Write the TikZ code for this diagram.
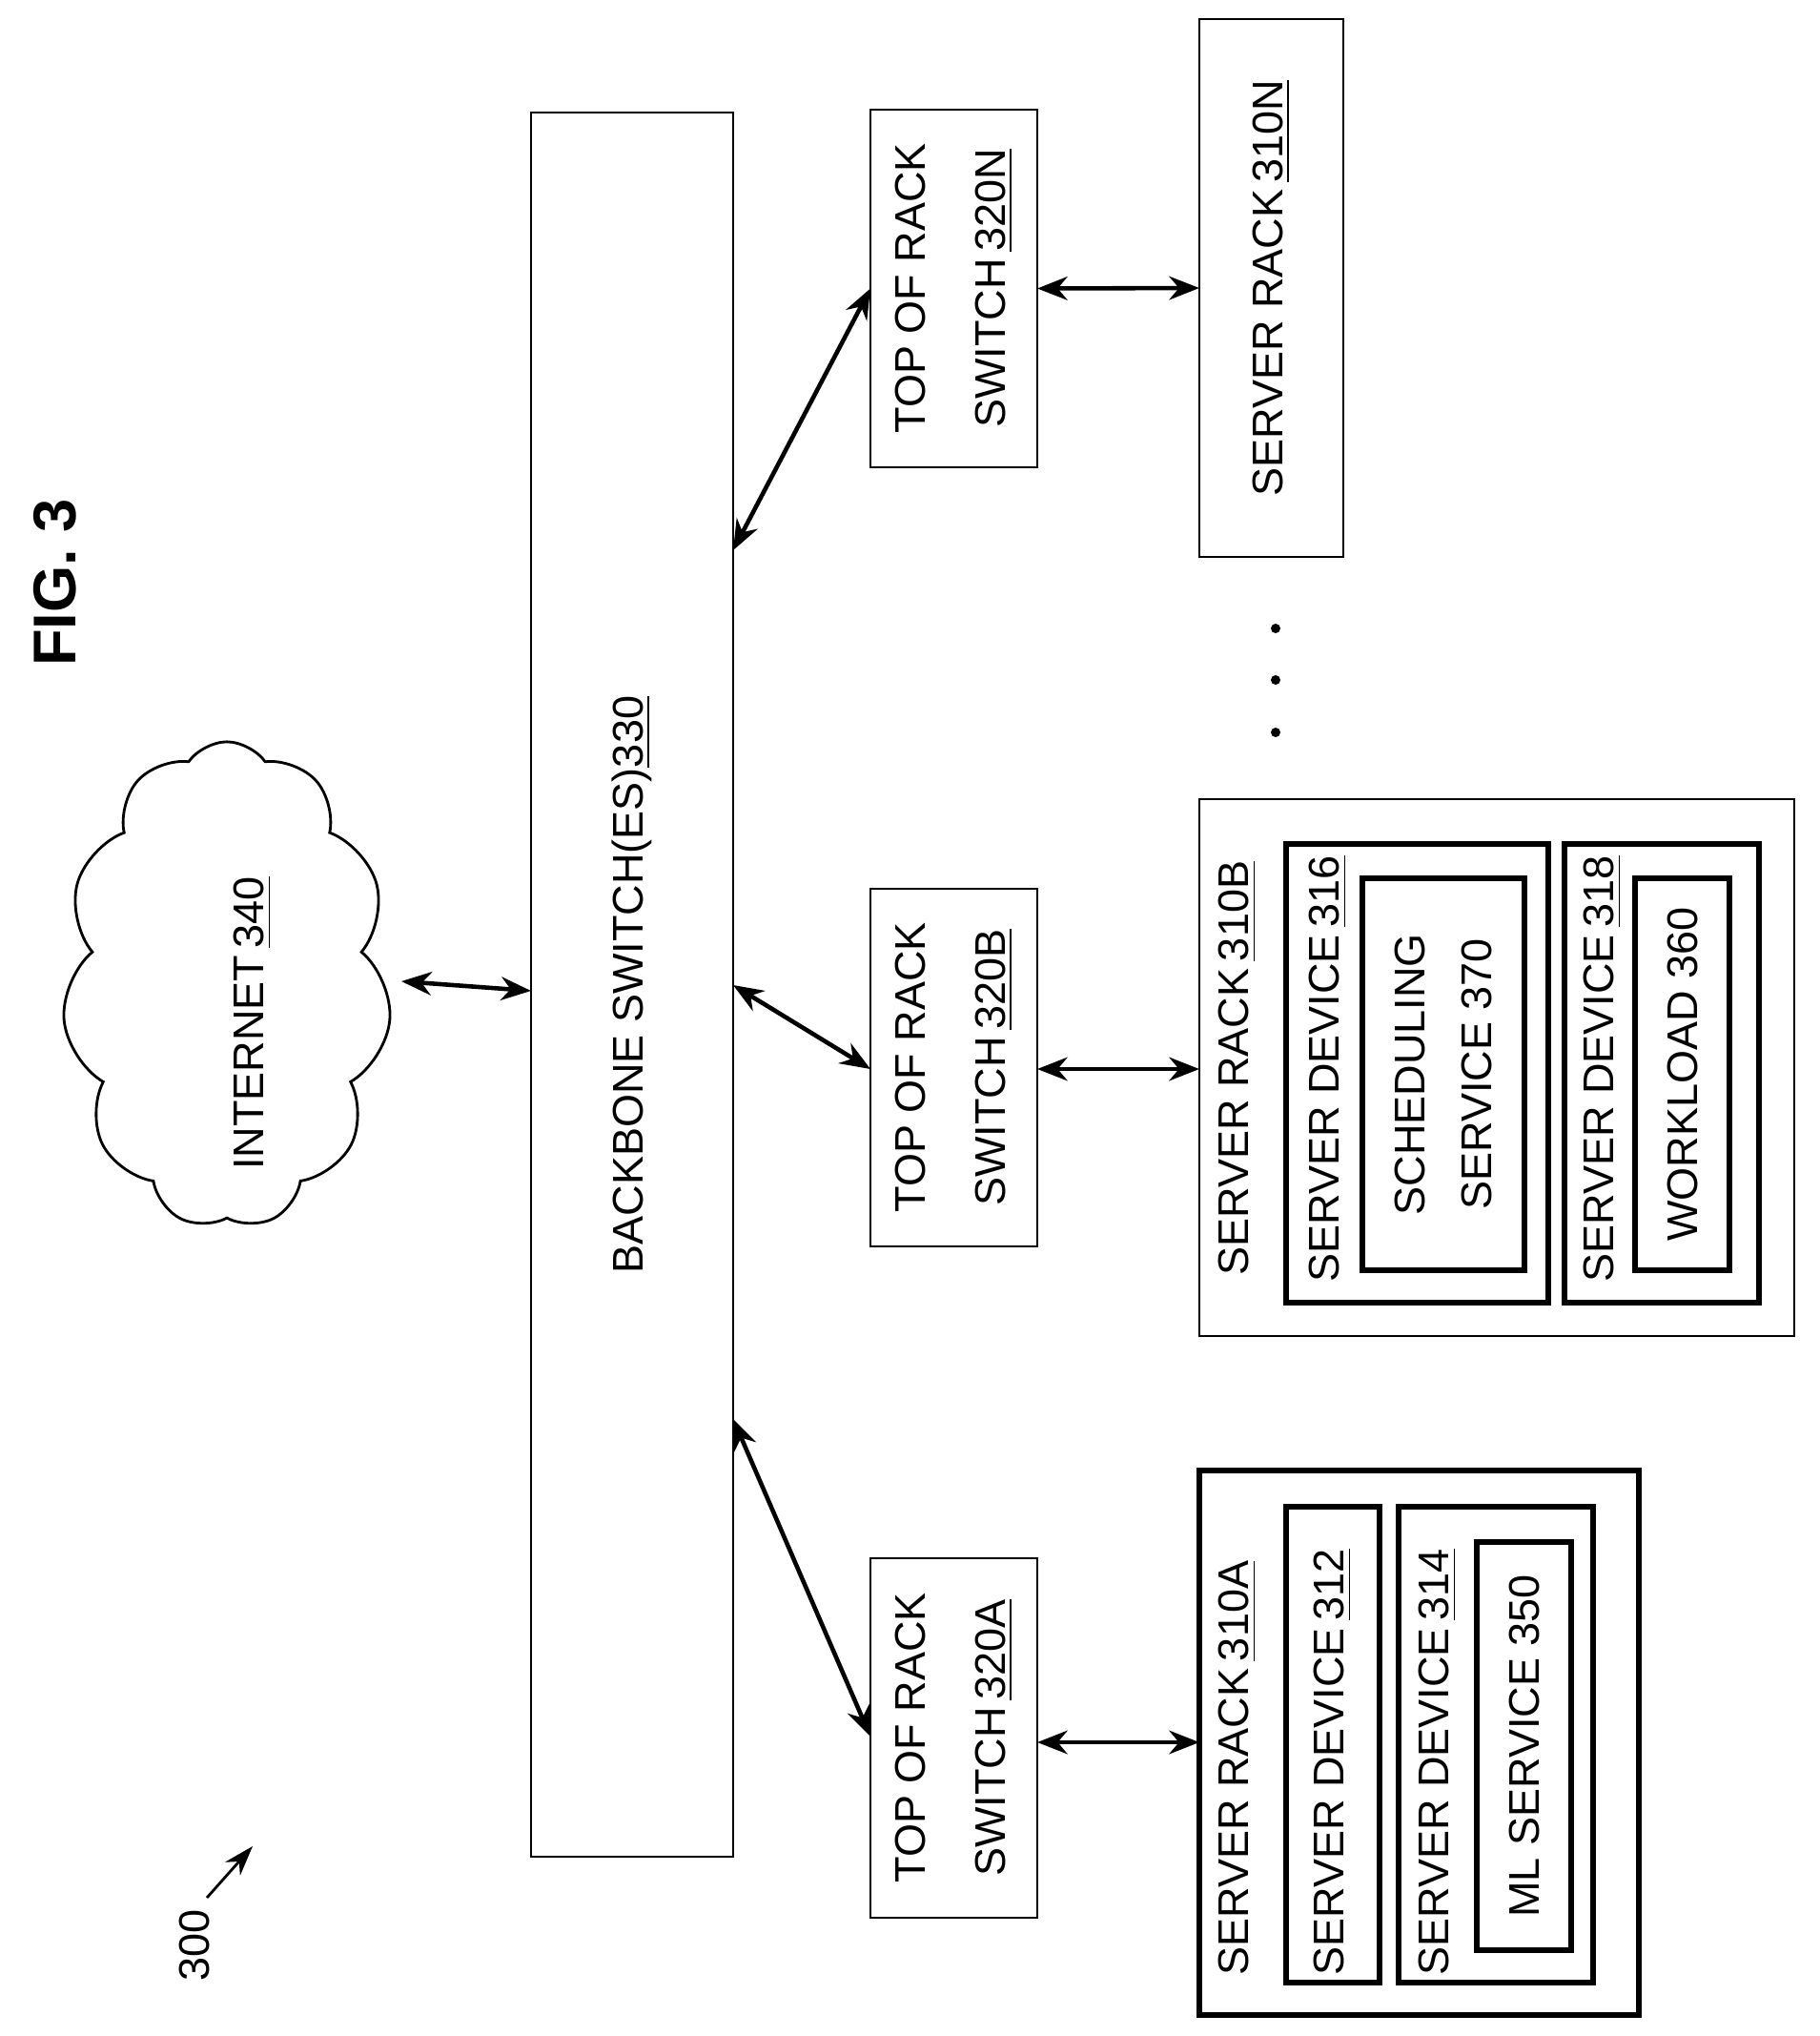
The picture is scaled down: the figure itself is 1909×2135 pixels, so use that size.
\documentclass[tikz,border=0pt]{standalone}
\usepackage{fontspec}
\setmainfont{Liberation Sans}
\usetikzlibrary{shapes.symbols,arrows.meta}
\newcommand{\pbox}[6]{\node[#6, minimum width={(#4-#2)*0.01cm}, minimum height={(#5-#3)*0.01cm}] (#1) at ({(#2+#4)/2},{(#3+#5)/2}) {};}
\tikzset{
  thinbox/.style={draw, line width=0.6pt, inner sep=0pt, outer sep=0pt},
  thickbox/.style={draw, line width=1.6pt, inner sep=0pt, outer sep=0pt},
  lbl/.style={rotate=90, font=\fontsize{12.8}{24}\selectfont, inner sep=0pt, align=center},
  link/.style={line width=1.3pt, {Stealth[length=9pt,width=7pt]}-{Stealth[length=9pt,width=7pt]}}
}
\begin{document}
\begin{tikzpicture}[x=0.01cm, y=-0.01cm]
\useasboundingbox (0,0) rectangle (1909,2135);
% backbone and switches
\pbox{bb}{557}{118}{769}{1947}{thinbox}
\pbox{torN}{913}{115}{1088}{490}{thinbox}
\pbox{torB}{913}{932}{1088}{1307}{thinbox}
\pbox{torA}{913}{1634}{1088}{2011}{thinbox}
% racks
\pbox{rackN}{1258}{20}{1409}{584}{thinbox}
\pbox{rackB}{1258}{838}{1882}{1401}{thinbox}
\pbox{dev316}{1349}{885}{1624}{1366}{thickbox}
\pbox{sched}{1429}{921}{1599}{1332}{thickbox}
\pbox{dev318}{1641}{885}{1845}{1366}{thickbox}
\pbox{work}{1715}{921}{1814}{1332}{thickbox}
\pbox{rackA}{1258}{1542}{1719}{2113}{thickbox}
\pbox{dev312}{1349}{1580}{1447}{2079}{thickbox}
\pbox{dev314}{1467}{1580}{1671}{2079}{thickbox}
\pbox{ml}{1549}{1617}{1648}{2045}{thickbox}
% cloud
\node[cloud, draw, line width=0.8pt, cloud puffs=11, cloud puff arc=110, minimum width=3.45cm, minimum height=5.1cm, inner sep=0pt] (net) at (238,1033) {};
% texts
\node[lbl, font=\bfseries\fontsize{18}{22}\selectfont] (fig) at (58,611) {FIG. 3};
\node[lbl] (bbtxt) at (bb) {BACKBONE SWITCH(ES)\underline{330}};
\node[lbl] (nettxt) at (265,1073) {INTERNET\,\underline{340}};
\node[lbl] (torNtxt) at (torN) {TOP OF RACK\\SWITCH\,\underline{320N}};
\node[lbl] (torBtxt) at (torB) {TOP OF RACK\\SWITCH\,\underline{320B}};
\node[lbl] (torAtxt) at (torA) {TOP OF RACK\\SWITCH\,\underline{320A}};
\node[lbl] (rackNtxt) at (rackN) {SERVER RACK\,\underline{310N}};
\node[lbl, anchor=west] (rackBtxt) at (1298,1338) {SERVER RACK\,\underline{310B}};
\node[lbl, anchor=west] (rackAtxt) at (1298,2072) {SERVER RACK\,\underline{310A}};
\node[lbl, anchor=west] (d316txt) at (1393,1345) {SERVER DEVICE\,\underline{316}};
\node[lbl, anchor=west] (d318txt) at (1681,1345) {SERVER DEVICE\,\underline{318}};
\node[lbl, anchor=west] (d312txt) at (1398,2072) {SERVER DEVICE\,\underline{312}};
\node[lbl, anchor=west] (d314txt) at (1508,2072) {SERVER DEVICE\,\underline{314}};
\node[lbl, font=\fontsize{12.8}{20}\selectfont] (schedtxt) at (sched) {SCHEDULING\\SERVICE 370};
\node[lbl] (worktxt) at (work) {WORKLOAD 360};
\node[lbl] (mltxt) at (ml) {ML SERVICE 350};
\node[lbl] (ref) at (204,2040) {300};
% dots
\foreach \y in {659,713,768} \fill (1338,\y) circle (5);
% connectors
\coordinate (netR) at (421,1029);
\coordinate (bbNet) at (557,1039);
\coordinate (bbN) at (769,577);
\coordinate (bbB) at (769,1033);
\coordinate (bbA) at (769,1488);
\coordinate (torBin) at (913,1121);
\coordinate (torAin) at (913,1821);
\coordinate (refS) at (217,1990);
\coordinate (refE) at (265,1936);
\draw[link] (netR) -- (bbNet);
\draw[link] (bbN) -- (torN.west);
\draw[link] (bbB) -- (torBin);
\draw[link] (bbA) -- (torAin);
\draw[link] (torN.east) -- (rackN.west);
\draw[link] (torB.east |- torBin) -- (rackB.west |- torBin);
\draw[link] (torA.east |- 0,1827) -- (rackA.west |- 0,1827);
\draw[line width=0.8pt, -{Stealth[length=9pt,width=6pt]}] (refS) -- (refE);
\end{tikzpicture}
\end{document}
